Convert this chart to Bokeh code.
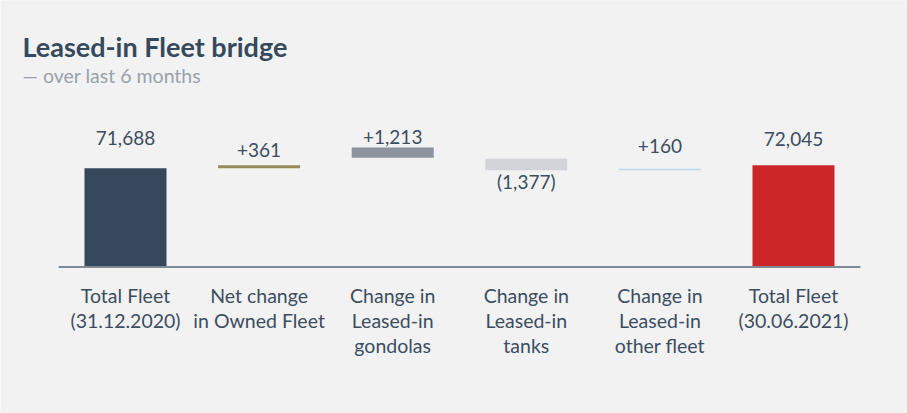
import numpy as np
from bokeh.plotting import figure
from bokeh.models import ColumnDataSource, Range1d, Label
from bokeh.core.properties import value
from bokeh.embed import file_html
from bokeh.resources import INLINE

# ---- data ----
categories = ["Total Fleet\n(31.12.2020)", "Net change\nin Owned Fleet",
              "Change in\nLeased-in\ngondolas", "Change in\nLeased-in\ntanks",
              "Change in\nLeased-in\nother fleet", "Total Fleet\n(30.06.2021)"]
values = [71688, 361, 1213, -1377, 160, 72045]
is_total = [True, False, False, False, False, True]
value_labels = ["71,688", "+361", "+1,213", "(1,377)", "+160", "72,045"]
# axis floor (broken axis) and start level of each floating bar
axis_floor = 60000
float_start = [None, 71688, 72930, 72830, 71470, None]

# ---- styles ----
bar_colors = ["#36495c", "#968a5c", "#8c92a0", "#d3d4d9", "#bdd7ee", "#cc2628"]
label_dy = [-30, -15, -11, 11, -23, -26]
txt_col = "#3c4d61"
FONT = "Lato"
W, H = 907, 413

n = len(categories)
idx = np.arange(n)
lows, highs, anchor = [], [], []
for i in range(n):
    if is_total[i]:
        lo, hi = axis_floor, values[i]
    else:
        a = float_start[i]
        lo, hi = min(a, a + values[i]), max(a, a + values[i])
    lows.append(lo)
    highs.append(hi)
    anchor.append(hi if values[i] >= 0 else lo)

src = ColumnDataSource(dict(x=idx, lo=lows, hi=highs, color=bar_colors,
                            ay=anchor, lab=value_labels, dy=label_dy,
                            cat=categories, floor=[axis_floor] * n))

px_per_unit = 118.4
step = 133.6
x0_px, base_px = 125, 266.5
p = figure(width=W, height=H, output_backend="svg", toolbar_location=None,
           x_range=Range1d(-x0_px / step, (W - x0_px) / step),
           y_range=Range1d(axis_floor - (H - base_px) * px_per_unit,
                           axis_floor + base_px * px_per_unit),
           min_border=0, background_fill_color="#f2f2f2",
           border_fill_color="#f2f2f2")
p.axis.visible = False
p.grid.visible = False
p.outline_line_color = None

p.vbar(x="x", width=0.614, bottom="lo", top="hi", fill_color="color",
       line_color=None, source=src)
p.segment(x0=-0.5, x1=n - 0.5, y0=axis_floor, y1=axis_floor,
          line_color="#7f8a94", line_width=2)

p.text(x="x", y="ay", text="lab", y_offset="dy", source=src,
       text_align="center", text_baseline="alphabetic",
       text_font=value(FONT), text_font_size="19px", text_color=txt_col)

p.text(x="x", y="floor", text="cat", y_offset=17, source=src,
       text_align="center", text_baseline="top", text_line_height=1.08,
       text_font=value(FONT), text_font_size="19.5px", text_color=txt_col)

p.add_layout(Label(x=22, y=H - 46, x_units="screen", y_units="screen",
                   text="Leased-in Fleet bridge", text_font=FONT,
                   text_font_size="27px", text_font_style="bold",
                   text_color="#36495c", text_baseline="alphabetic"))
p.add_layout(Label(x=22, y=H - 75, x_units="screen", y_units="screen",
                   text="\u2014 over last 6 months", text_font=FONT,
                   text_font_size="19.5px", text_color="#9aa1ab",
                   text_baseline="alphabetic"))

html = file_html(p, INLINE)
open("out.html", "w").write(html)
